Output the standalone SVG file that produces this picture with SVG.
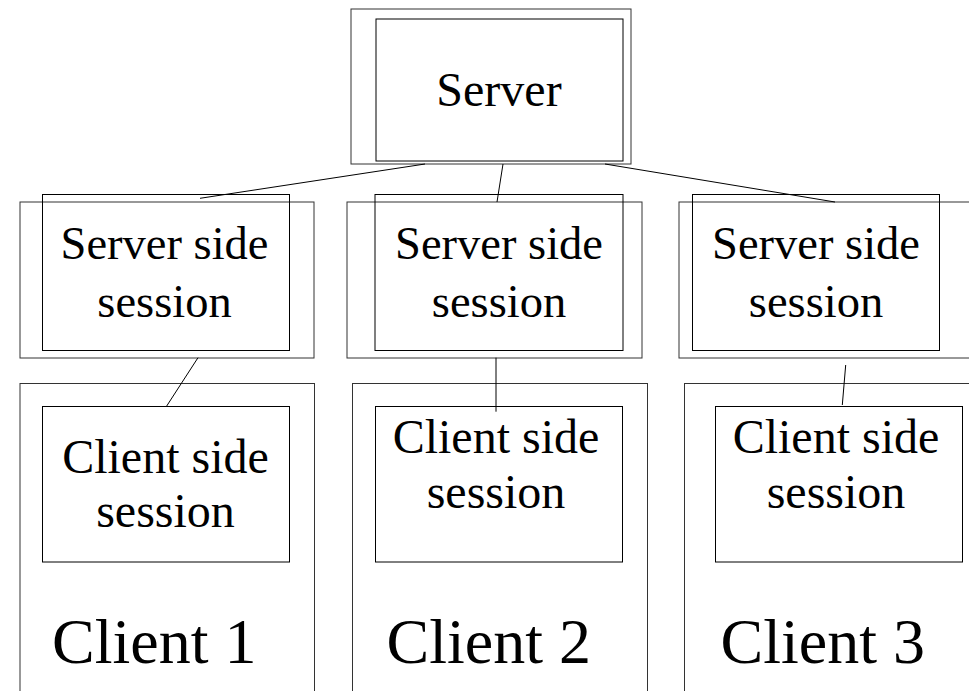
<svg xmlns="http://www.w3.org/2000/svg" width="969" height="691" viewBox="0 0 969 691" font-family="Liberation Serif, Times New Roman, serif">
<style>
rect{fill:none;stroke:#000;stroke-width:1}
.o{stroke:#333}
line{stroke:#000;stroke-width:1}
text{fill:#000}
.m{font-size:48px;text-anchor:middle}
.s{font-size:46.5px}
.c{font-size:64px}
</style>
<rect x="0" y="0" width="969" height="691" style="fill:#fff;stroke:none"/>
<g id="server">
<rect class="o" x="351" y="9" width="280" height="155"/>
<rect x="376" y="19" width="247" height="142"/>
<text class="m" x="499" y="106">Server</text>
</g>
<g id="ss1">
<rect class="o" x="20" y="202" width="294" height="156"/>
<rect x="42.5" y="194.5" width="247" height="156"/>
<text class="m s" x="164.5" y="259">Server side</text>
<text class="m s" x="164.5" y="316.5">session</text>
</g>
<g id="ss2">
<rect class="o" x="347" y="202" width="295" height="156"/>
<rect x="375" y="194.5" width="248" height="156"/>
<text class="m s" x="499" y="259">Server side</text>
<text class="m s" x="499" y="316.5">session</text>
</g>
<g id="ss3">
<rect class="o" x="679" y="202" width="300" height="156"/>
<rect x="692.5" y="194.5" width="247" height="156"/>
<text class="m s" x="816" y="259">Server side</text>
<text class="m s" x="816" y="316.5">session</text>
</g>
<g id="client1">
<rect class="o" x="20" y="383.5" width="294.5" height="320"/>
<rect x="42.5" y="406.5" width="247" height="155.5"/>
<text class="m" x="165.5" y="472.7">Client side</text>
<text class="m" x="165.5" y="527.3">session</text>
<text class="c" x="52" y="662.7">Client 1</text>
</g>
<g id="client2">
<rect class="o" x="352.5" y="383.5" width="295" height="320"/>
<rect x="375.5" y="406.5" width="247" height="155.5"/>
<text class="m" x="496" y="453.3">Client side</text>
<text class="m" x="496" y="508.3">session</text>
<text class="c" x="386.5" y="662.7">Client 2</text>
</g>
<g id="client3">
<rect class="o" x="684.5" y="383.5" width="300" height="320"/>
<rect x="715.5" y="406.5" width="247" height="155.5"/>
<text class="m" x="836" y="453.3">Client side</text>
<text class="m" x="836" y="508.3">session</text>
<text class="c" x="720.5" y="662.7">Client 3</text>
</g>
<g id="connectors">
<line x1="425" y1="164" x2="200" y2="198.3"/>
<line x1="503" y1="164" x2="497" y2="202"/>
<line x1="605" y1="164" x2="835" y2="202"/>
<line x1="198" y1="357.7" x2="166.7" y2="406"/>
<line x1="496" y1="357.7" x2="496" y2="411.7"/>
<line x1="845.7" y1="365" x2="842.3" y2="405"/>
</g>
</svg>
